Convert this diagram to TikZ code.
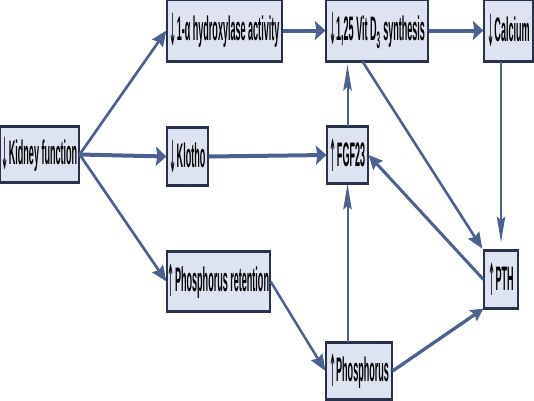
\documentclass[tikz,border=0pt]{standalone}
\usepackage{fontspec}
\newfontfamily\nf[FakeStretch=0.266]{Liberation Sans Bold}
\newfontfamily\af[FakeStretch=0.25]{DejaVu Sans}
\newcommand{\dn}{\raisebox{-0.14em}{\scalebox{1}[1.3]{\af ↓}}}
\newcommand{\up}{\raisebox{-0.14em}{\scalebox{1}[1.3]{\af ↑}}}
\usetikzlibrary{arrows.meta,calc}
\definecolor{boxfill}{HTML}{DDE3F1}
\definecolor{boxline}{HTML}{28324C}
\definecolor{arr}{HTML}{4B6291}
\begin{document}
\begin{tikzpicture}[x=1pt,y=-1pt,
  box/.style={draw=boxline, line width=1.2pt, fill=boxfill, inner sep=0pt,
    font=\nf\fontsize{34}{38}\selectfont, text=black},
  conn/.style={draw=arr},
  hz/.style={conn, line width=4pt, -{Stealth[length=10.5pt,width=19pt,inset=1.5pt]}},
  vt/.style={conn, line width=2pt, -{Stealth[length=26pt,width=8.5pt,inset=4pt]}},
  dg/.style 2 args={conn, line width=#1pt, -{Stealth[length=#2pt,width=13pt,inset=2pt]}},
]
\useasboundingbox (0,0) rectangle (534,400);
\node[box, minimum width=79pt,  minimum height=55pt] (kid)  at (39.5,154.5) {\dn Kidney function};
\node[box, minimum width=115pt, minimum height=61pt] (hyd)  at (224.5,30.5) {\dn 1-α hydroxylase activity};
\node[box, minimum width=102pt, minimum height=61pt] (vitd) at (377,30.5)   {\dn 1,25 Vit D\textsubscript{3} synthesis};
\node[box, minimum width=49pt,  minimum height=61pt] (cal)  at (508.5,30.5) {\dn Calcium};
\node[box, minimum width=41pt,  minimum height=57pt] (klo)  at (187.5,156.5) {\dn Klotho};
\node[box, minimum width=41pt,  minimum height=56pt] (fgf)  at (347.5,155)  {\up FGF23};
\node[box, minimum width=103pt, minimum height=59pt] (ret)  at (218.5,281.5) {\up Phosphorus retention};
\node[box, minimum width=66pt,  minimum height=56pt] (phos) at (359,371)    {\up Phosphorus};
\node[box, minimum width=34pt,  minimum height=57pt] (pth)  at (501,279.5)  {\up PTH};
\foreach \n in {kid,hyd,vitd,cal,klo,fgf,ret,phos,pth}
  \draw[boxline, line width=3pt] (\n.north west) -- (\n.north east) (\n.south west) -- (\n.south east);

\draw[dg={2.7}{15.6}] (kid.east) -- (hyd.west);
\draw[hz] (kid.east) -- (klo.west);
\draw[dg={2.7}{15.6}] (kid.east) -- (ret.west);
\draw[hz] (hyd.east) -- (vitd.west);
\draw[hz] (vitd.east) -- (cal.west);
\draw[hz] (klo.east) -- (fgf.west);
\draw[vt, shorten >=3pt] (fgf.north) -- (fgf.north |- vitd.south);
\draw[vt] (phos.north -| fgf.south) -- (fgf.south);
\draw[dg={3}{14}] (pth.west) -- (fgf.east);
\draw[dg={2.6}{16}, shorten >=2pt] ($(vitd.south west)!0.36!(vitd.south east)$) -- (pth.north west);
\draw[vt, shorten >=8pt] (pth.north |- cal.south) -- (pth.north);
\draw[dg={3.3}{12.5}] (phos.east) -- (pth.south west);
\draw[dg={2.5}{16.5}] (ret.east) -- (phos.west);
\end{tikzpicture}
\end{document}
